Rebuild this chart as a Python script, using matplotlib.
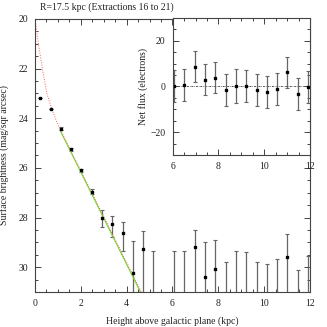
import numpy as np
import matplotlib
matplotlib.use("Agg")
from matplotlib import pyplot as plt
from matplotlib.ticker import MultipleLocator

# main panel: surface brightness points with two-sided errors
z_pts   = [0.22, 0.68, 1.12, 1.57, 2.02, 2.47, 2.92, 3.37, 3.83, 4.26, 4.71, 6.97, 7.42, 7.87, 11.01]
mu_pts  = [23.17, 23.62, 24.42, 25.25, 26.09, 26.96, 28.01, 28.27, 28.63, 30.24, 29.25, 29.19, 30.38, 30.07, 29.57]
mu_up   = [23.17, 23.62, 24.36, 25.20, 26.03, 26.86, 27.71, 27.93, 28.16, 28.96, 28.54, 28.52, 29.00, 28.90, 28.68]
mu_down = [23.17, 23.62, 24.48, 25.30, 26.15, 27.06, 28.40, 28.79, 29.35, 33.0, 33.0, 33.0, 33.0, 33.0, 33.0]

# bins where the flux is not positive: only the top of the error bar shows
z_lim  = [5.16, 6.06, 6.52, 8.32, 8.77, 9.22, 9.67, 10.11, 10.56, 11.46, 11.91]
mu_lim = [29.35, 29.33, 29.33, 29.80, 29.33, 29.37, 29.80, 29.89, 29.69, 30.13, 29.53]

# model curve (dotted red) and linear fit (green)
z_mod  = [0.0, 0.15, 0.32, 0.52, 0.76, 1.02, 4.75]
mu_mod = [20.0, 21.0, 22.0, 23.0, 23.7, 24.3, 31.2]
z_fit  = [1.09, 4.60]
mu_fit = [24.48, 31.0]

# inset: net flux
z_in    = [6.06, 6.51, 6.96, 7.42, 7.87, 8.32, 8.77, 9.22, 9.67, 10.11, 10.56, 11.01, 11.46, 11.91]
flux    = [0.4, 0.6, 8.7, 3.0, 3.9, -1.7, 0.3, 0.2, -1.7, -2.2, -1.1, 6.2, -3.2, -0.4]
flux_er = [7.0, 7.0, 6.7, 6.8, 6.9, 7.0, 7.5, 7.0, 7.0, 7.0, 7.0, 6.8, 7.0, 7.0]

plt.rcParams['font.family'] = ['Liberation Serif', 'DejaVu Serif']
plt.rcParams['font.size'] = 7
fc = '#444444'
ec = '#666666'
tc = '#222222'

fig = plt.figure(figsize=(3.27, 3.27), dpi=100)
ax = fig.add_axes([0.107, 0.107, 0.841, 0.835])

yerr = [np.array(mu_pts) - np.array(mu_up), np.array(mu_down) - np.array(mu_pts)]
ax.errorbar(z_pts, mu_pts, yerr=yerr, fmt='none', ecolor=ec, elinewidth=0.9, capsize=1.5, capthick=0.8)
ax.errorbar(z_lim, mu_lim, yerr=[np.zeros(len(z_lim)), 5 * np.ones(len(z_lim))],
            fmt='none', ecolor=ec, elinewidth=0.9, capsize=1.5, capthick=0.8)
ax.plot(z_fit, mu_fit, color='#66dd33', lw=0.8)
ax.plot(z_mod, mu_mod, color='#ff6060', lw=0.7, ls=(0, (1, 1.5)))
ax.plot(z_pts, mu_pts, 's', color='black', ms=1.8)

ax.set_xlim(0, 12)
ax.set_ylim(31, 20)
ax.xaxis.set_major_locator(MultipleLocator(2))
ax.xaxis.set_minor_locator(MultipleLocator(0.5))
ax.yaxis.set_major_locator(MultipleLocator(2))
ax.yaxis.set_minor_locator(MultipleLocator(0.5))
ax.tick_params(which='both', direction='in', top=True, right=True, colors=fc, labelcolor=tc, width=0.7)
ax.tick_params(which='major', length=4, pad=5)
ax.tick_params(which='minor', length=2)
for s in ax.spines.values():
    s.set_color(fc)
    s.set_linewidth(0.8)
ax.set_xlabel('Height above galactic plane (kpc)', labelpad=6, color=tc)
ax.set_ylabel('Surface brightness (mag/sqr arcsec)', labelpad=7, color=tc)
fig.text(0.122, 0.978, 'R=17.5 kpc (Extractions 16 to 21)', ha='left', va='center', color=tc)

# inset
ai = fig.add_axes([0.528, 0.526, 0.42, 0.419])
ai.set_facecolor('white')
ai.axhline(0, color='#555555', lw=0.7, ls=(0, (2, 1, 0.6, 1)))
ai.errorbar(z_in, flux, yerr=flux_er, fmt='none', ecolor=ec, elinewidth=0.9, capsize=1.5, capthick=0.8)
ai.plot(z_in, flux, 's', color='black', ms=1.8)
ai.set_xlim(6, 12)
ai.set_ylim(-30, 30)
ai.xaxis.set_major_locator(MultipleLocator(2))
ai.xaxis.set_minor_locator(MultipleLocator(0.5))
ai.yaxis.set_major_locator(MultipleLocator(20))
ai.yaxis.set_minor_locator(MultipleLocator(5))
ai.tick_params(which='both', direction='in', top=True, right=True, colors=fc, labelcolor=tc, width=0.7)
ai.tick_params(which='major', length=4, pad=5)
ai.tick_params(which='minor', length=2)
for s in ai.spines.values():
    s.set_color(fc)
    s.set_linewidth(0.8)
ai.set_ylabel('Net flux (electrons)', labelpad=2, color=tc)

fig.savefig('out.png', dpi=100)
